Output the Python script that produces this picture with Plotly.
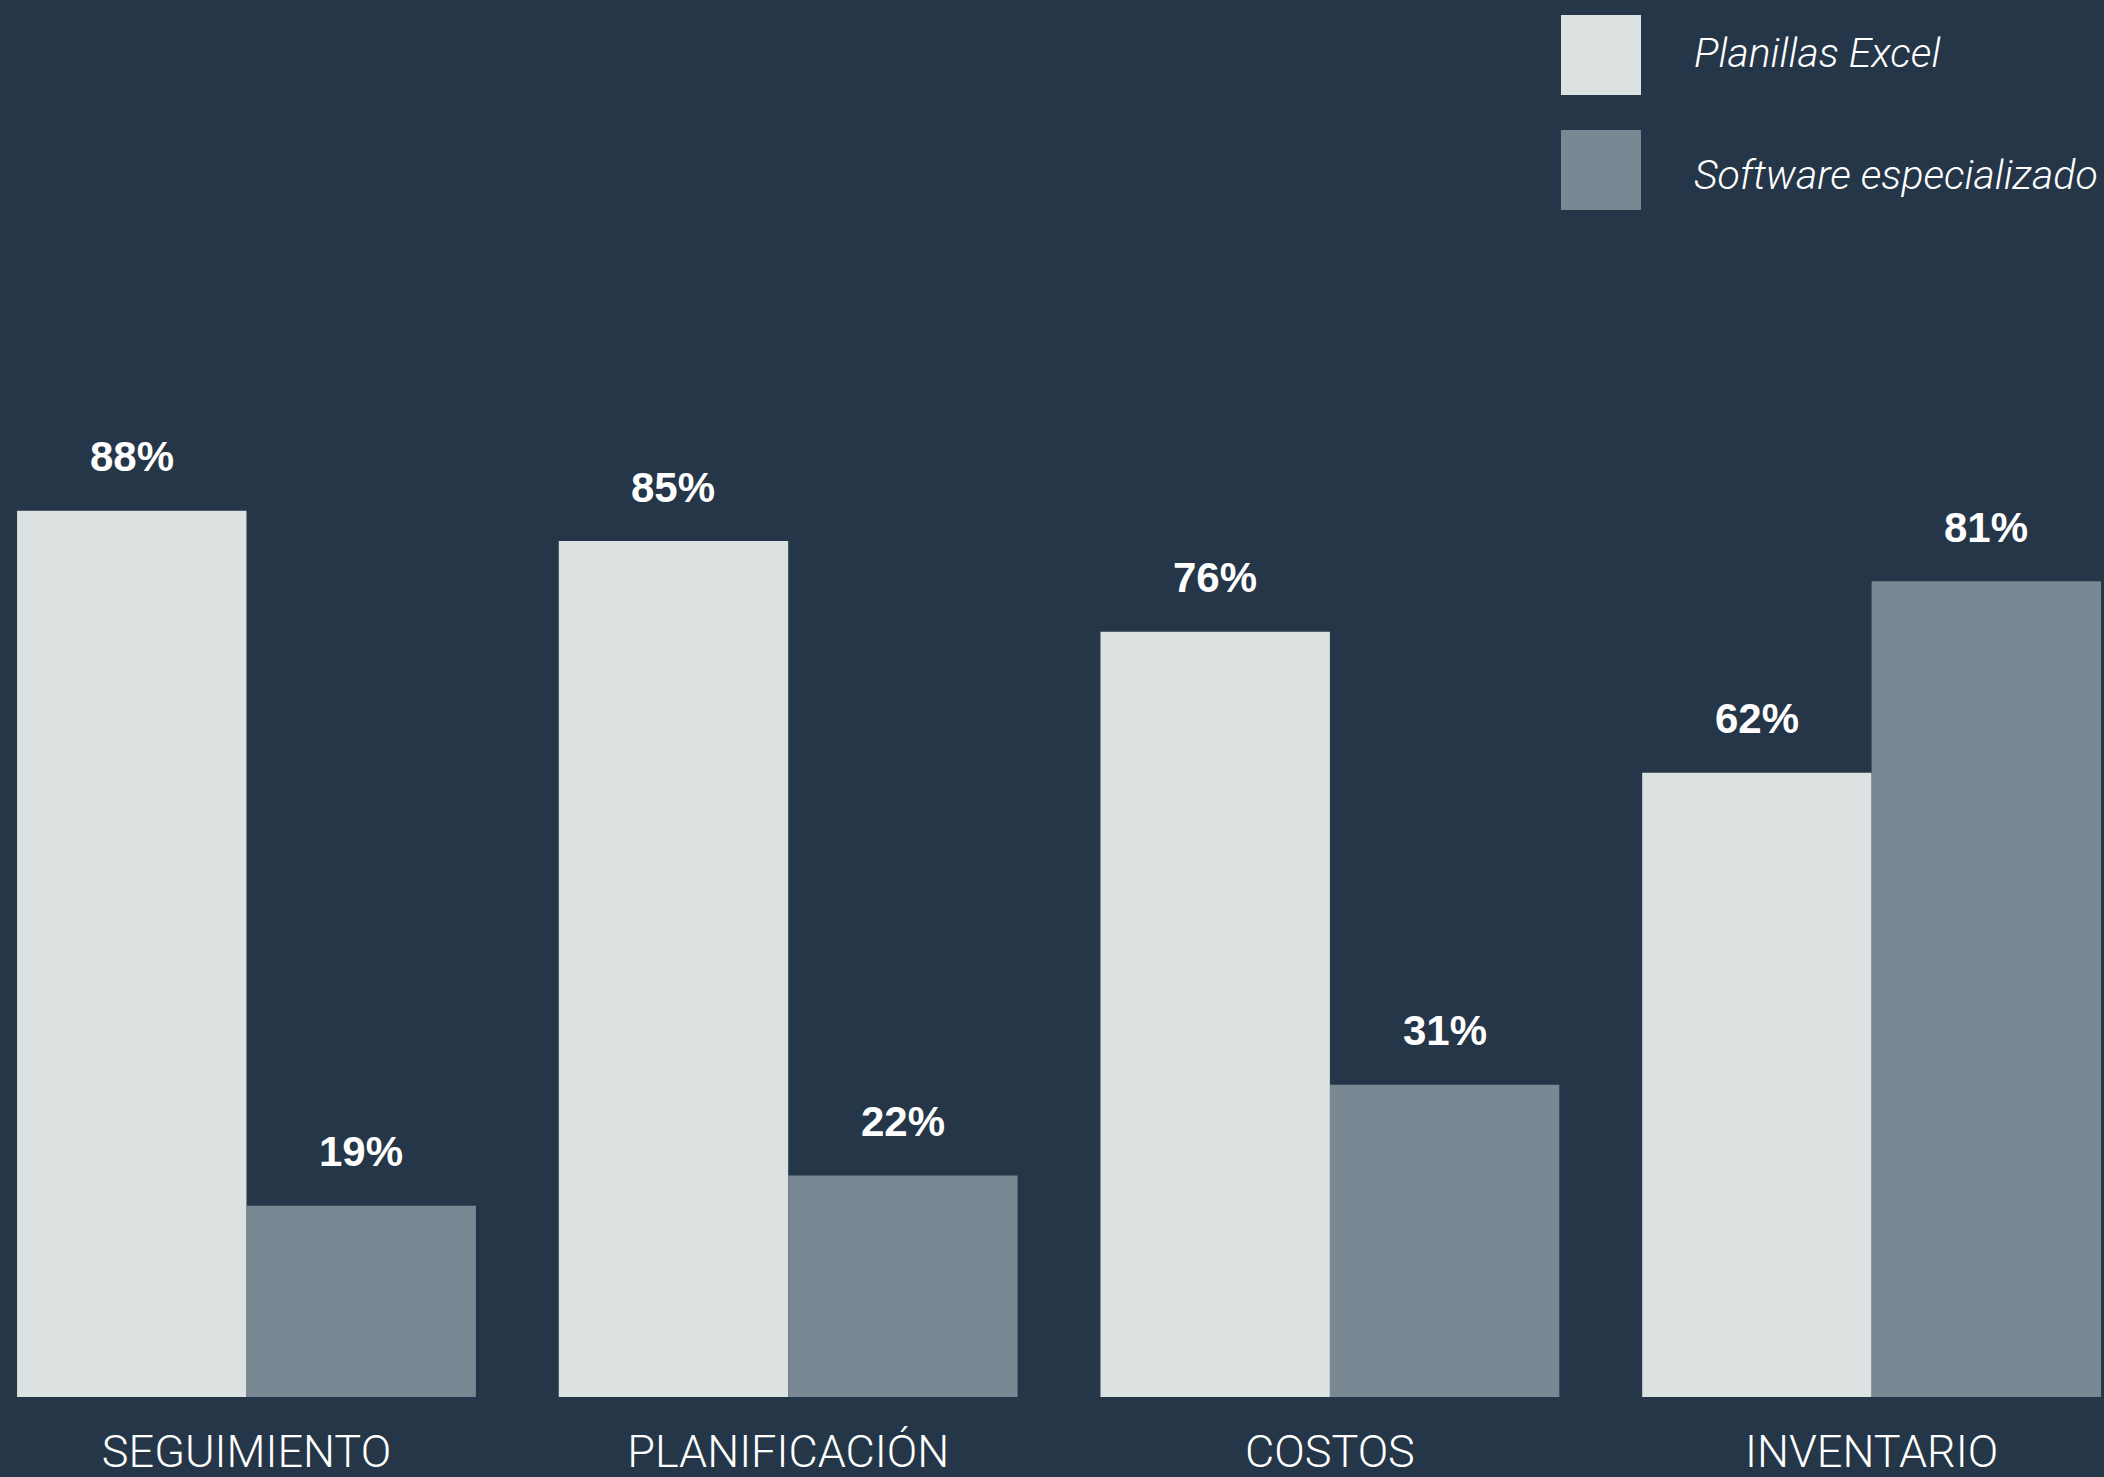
import plotly.graph_objects as go

# Categories and series values (percent of companies)
categorias = ["SEGUIMIENTO", "PLANIFICACIÓN", "COSTOS", "INVENTARIO"]
excel = [88, 85, 76, 62]
software = [19, 22, 31, 81]
series_names = ["Planillas Excel", "Software especializado"]

BG = "#243647"
C_EXCEL = "#DCE2E2"
C_SOFT = "#7A8893"

W, H = 2104, 1477
M_BOTTOM = 80
PLOT_H = H - M_BOTTOM
PX_PER_PCT = 10.07

fig = go.Figure()
fig.add_trace(go.Bar(x=categorias, y=excel, name=series_names[0],
                     marker=dict(color=C_EXCEL, line=dict(width=0))))
fig.add_trace(go.Bar(x=categorias, y=software, name=series_names[1],
                     marker=dict(color=C_SOFT, line=dict(width=0))))

# value labels above each bar
cat_px = W / 3.884  # pixels per category unit
bar_half = (1 - 0.153) / 4 * cat_px
annotations = []
for vals, shift in ((excel, -bar_half), (software, bar_half)):
    for c, v in zip(categorias, vals):
        annotations.append(dict(
            x=c, y=v, xref="x", yref="y", text=f"{v}%", showarrow=False,
            xshift=shift, yshift=54, yanchor="middle", xanchor="center",
            font=dict(family="Liberation Sans", size=42, color="white", weight=700),
        ))

# legend drawn as swatches + italic labels
legend_rows = [(15, 95, 53, C_EXCEL), (130, 210, 175, C_SOFT)]
shapes = []
for (top, bot, text_y, col), name in zip(legend_rows, series_names):
    shapes.append(dict(type="rect", xref="paper", yref="paper",
                       x0=1561 / W, x1=1641 / W,
                       y0=1 - bot / PLOT_H, y1=1 - top / PLOT_H,
                       fillcolor=col, line=dict(width=0), layer="above"))
    annotations.append(dict(
        x=1692 / W, y=1 - text_y / PLOT_H, xref="paper", yref="paper",
        text=name, showarrow=False, xanchor="left", yanchor="middle",
        font=dict(family="Roboto", size=41, color="white", weight=300, style="italic"),
    ))

fig.update_layout(
    width=W, height=H,
    margin=dict(l=0, r=0, t=0, b=M_BOTTOM, pad=0, autoexpand=False),
    paper_bgcolor=BG, plot_bgcolor=BG,
    barmode="group", bargap=0.153, bargroupgap=0,
    showlegend=False,
    annotations=annotations, shapes=shapes,
)
fig.update_xaxes(
    range=[-0.455, 3.429], showgrid=False, zeroline=False, showline=False,
    ticks="", ticklabelstandoff=24, automargin=False,
    tickfont=dict(family="Roboto", size=45, color="white", weight=300),
)
fig.update_yaxes(range=[0, PLOT_H / PX_PER_PCT], visible=False,
                 showgrid=False, zeroline=False, automargin=False)

fig.write_html("out.html")
